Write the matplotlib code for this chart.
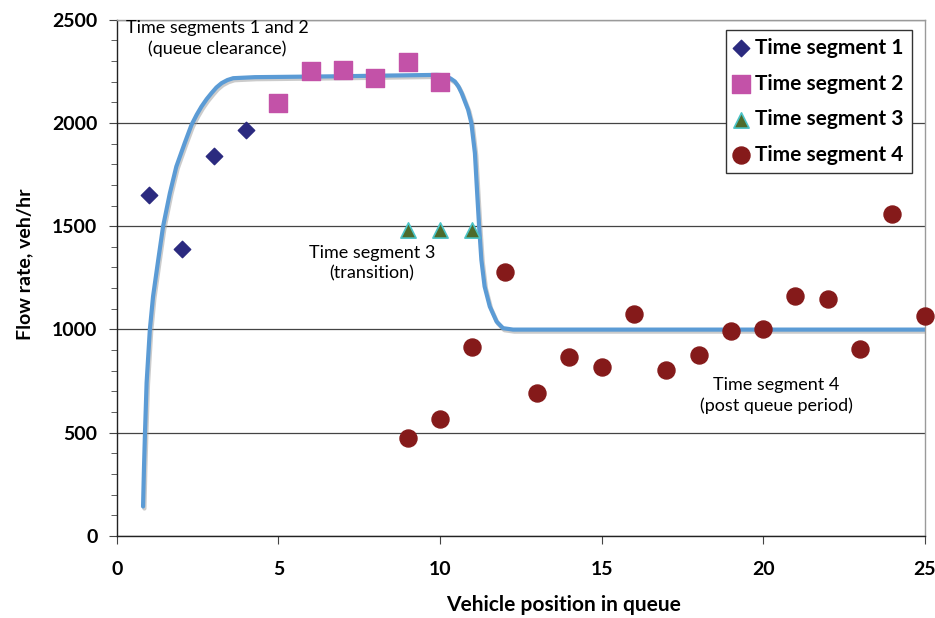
import matplotlib.pyplot as plt
import matplotlib.patheffects as pe
from matplotlib.ticker import MultipleLocator

# data
seg1_x = [1, 2, 3, 4]
seg1_y = [1650, 1390, 1840, 1965]
seg2_x = [5, 6, 7, 8, 9, 10]
seg2_y = [2095, 2250, 2255, 2220, 2295, 2200]
seg3_x = [9, 10, 11]
seg3_y = [1480, 1480, 1480]
seg4_x = [9, 10, 11, 12, 13, 14, 15, 16, 17, 18, 19, 20, 21, 22, 23, 24, 25]
seg4_y = [475, 565, 915, 1280, 690, 865, 820, 1075, 805, 875, 990, 1000,
          1160, 1145, 905, 1560, 1065]

# model curve
curve_x = [0.81, 0.84, 0.87, 0.92, 1.02, 1.12, 1.28, 1.43, 1.64, 1.84, 2.10,
           2.31, 2.47, 2.62, 2.78, 2.93, 3.08, 3.24, 3.42, 3.6, 4.27, 6.7,
           8.5, 9.9, 10.05, 10.2, 10.33, 10.46, 10.57, 10.67, 10.87, 10.97,
           11.08, 11.15, 11.21, 11.28, 11.38, 11.54, 11.75, 11.95, 12.26,
           25.0]
curve_y = [142, 336, 499, 741, 998, 1160, 1337, 1499, 1660, 1789, 1903,
           1991, 2040, 2080, 2116, 2145, 2172, 2193, 2208, 2217, 2222, 2226,
           2230, 2233, 2232, 2225, 2215, 2201, 2177, 2145, 2064, 2000, 1854,
           1660, 1499, 1337, 1208, 1111, 1038, 1006, 999, 999]

plt.rcParams['font.family'] = ['Lato', 'DejaVu Sans']

fig = plt.figure(figsize=(9.35, 6.18), dpi=100)
ax = fig.add_axes([0.125, 0.133, 0.864, 0.835])

ax.plot(curve_x, curve_y, color='#5B9BD5', lw=3, solid_capstyle='round',
        solid_joinstyle='round', zorder=2,
        path_effects=[pe.SimpleLineShadow(offset=(1, -1.5), shadow_color='#999999', alpha=0.5),
                      pe.Normal()])

ax.scatter(seg1_x, seg1_y, marker='D', s=70, color='#2B2A7F', zorder=3,
           label='Time segment 1')
ax.scatter(seg2_x, seg2_y, marker='s', s=150, color='#C352A8', zorder=3,
           label='Time segment 2')
ax.scatter(seg3_x, seg3_y, marker='^', s=120, color='#4D6B2B',
           edgecolors='#4BC3C6', linewidths=1.2, zorder=3,
           label='Time segment 3')
ax.scatter(seg4_x, seg4_y, marker='o', s=150, color='#851A1A', zorder=3,
           label='Time segment 4', clip_on=False)

ax.set_xlim(0, 25)
ax.set_ylim(0, 2500)
ax.xaxis.set_major_locator(MultipleLocator(5))
ax.yaxis.set_major_locator(MultipleLocator(500))
ax.yaxis.set_minor_locator(MultipleLocator(100))
ax.tick_params(axis='both', which='major', direction='out', length=6,
               width=0.8, labelsize=14, color='#444444')
ax.tick_params(axis='y', which='minor', direction='out', length=4,
               width=0.6, color='#444444')
ax.tick_params(axis='x', pad=12)
ax.tick_params(axis='y', pad=8)
for lab in ax.get_xticklabels() + ax.get_yticklabels():
    lab.set_fontweight('bold')

ax.grid(axis='y', which='major', color='#444444', lw=0.9)
ax.set_axisbelow(True)
for side in ['left', 'bottom']:
    ax.spines[side].set_color('#222222')
    ax.spines[side].set_linewidth(1.0)
for side in ['top', 'right']:
    ax.spines[side].set_color('#9a9a9a')
    ax.spines[side].set_linewidth(1.0)

ax.set_xlabel('Vehicle position in queue', fontsize=15, fontweight='bold')
ax.set_ylabel('Flow rate, veh/hr', fontsize=14, fontweight='bold')
ax.xaxis.set_label_coords(0.553, -0.115)
ax.yaxis.set_label_coords(-0.104, 0.527)

ax.text(3.1, 2410, 'Time segments 1 and 2\n(queue clearance)', fontsize=13,
        ha='center', va='center', linespacing=1.3)
ax.text(7.9, 1320, 'Time segment 3\n(transition)', fontsize=13,
        ha='center', va='center', linespacing=1.3)
ax.text(20.4, 680, 'Time segment 4\n(post queue period)', fontsize=13,
        ha='center', va='center', linespacing=1.3)

leg = ax.legend(loc='upper right', bbox_to_anchor=(0.984, 0.981),
                borderaxespad=0, fancybox=False, framealpha=1,
                edgecolor='#333333', handletextpad=0.3, handlelength=0.7,
                labelspacing=0.75, borderpad=0.4,
                prop={'size': 15, 'weight': 'bold'})
leg.get_frame().set_linewidth(1.0)

fig.savefig('out.png', dpi=100)
